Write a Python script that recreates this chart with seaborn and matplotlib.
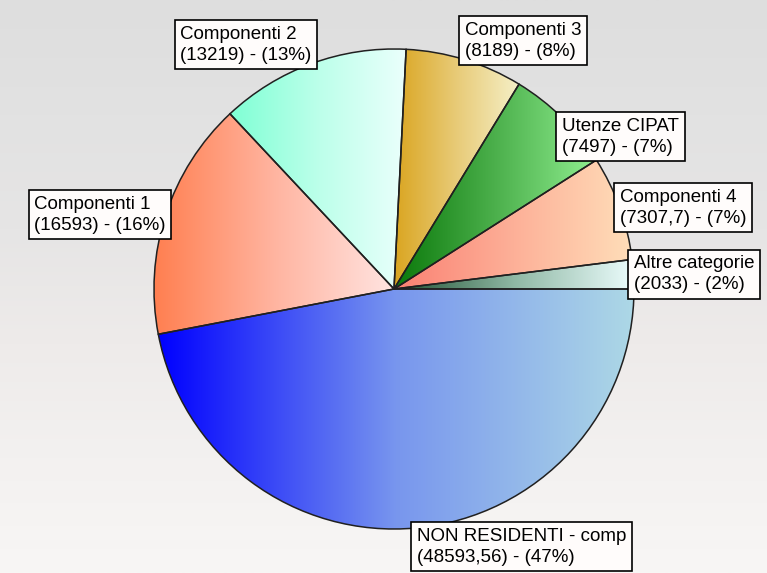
import numpy as np
import matplotlib
matplotlib.use("Agg")
import matplotlib.pyplot as plt
import seaborn as sns

# dati
categorie = ["Altre categorie", "Componenti 4", "Utenze CIPAT", "Componenti 3",
             "Componenti 2", "Componenti 1", "NON RESIDENTI - comp"]
valori = [2033, 7307.7, 7497, 8189, 13219, 16593, 48593.56]
valori_txt = ["2033", "7307,7", "7497", "8189", "13219", "16593", "48593,56"]

# colori sfumati (sinistra -> centro -> destra) per ogni spicchio
sfumature = [
    ["#1e5032", "#8fb8a4", "#ebfcfc"],
    ["#fa8072", "#fdb098", "#ffdeb9"],
    ["#0a780a", "#4cb04c", "#90ee90"],
    ["#daa520", "#e8cb78", "#f5f0c8"],
    ["#7fffd4", "#bcffea", "#ebfffc"],
    ["#ff7f50", "#ffb4a0", "#ffe4e1"],
    ["#0000ff", "#7896ee", "#add8e6"],
]
# allineamento etichette
ha_list = ["left", "left", "left", "left", "right", "right", "left"]
va_list = ["center", "center", "top", "bottom", "bottom", "center", "top"]

sns.set_theme(style="white")
plt.rcParams['font.family'] = ['Liberation Sans', 'DejaVu Sans']

W, H = 767, 573
fig = plt.figure(figsize=(W / 100, H / 100), dpi=100)
ax = fig.add_axes([0, 0, 1, 1])

# sfondo
bg = sns.blend_palette(["#dedede", "#e2e2e2", "#e6e5e5", "#eeebea", "#f3f1f0", "#f8f6f5"], n_colors=256)
ax.imshow(np.array(bg)[:, None, :], extent=[0, W, 0, H], aspect='auto', zorder=0)

cx, cy, r = 394, H - 289, 240
wedges, _ = ax.pie(valori, center=(cx, cy), radius=r, startangle=0, counterclock=True,
                   colors=['none'] * len(valori),
                   wedgeprops=dict(edgecolor='#202020', linewidth=1.1))
for w in wedges:
    w.set_zorder(3)

# riempimento sfumato
for w, cols in zip(wedges, sfumature):
    ext = w.get_path().get_extents()
    grad = np.array(sns.blend_palette(cols, n_colors=256))[None, :, :]
    im = ax.imshow(grad, extent=[ext.x0, ext.x1, ext.y0, ext.y1], aspect='auto',
                   zorder=2, interpolation='bilinear')
    im.set_clip_path(w)

totale = sum(valori)
for w, nome, vt, v, ha, va in zip(wedges, categorie, valori_txt, valori, ha_list, va_list):
    ang = np.deg2rad((w.theta1 + w.theta2) / 2)
    x = cx + r * np.cos(ang)
    y = cy + r * np.sin(ang)
    perc = round(v / totale * 100)
    ax.text(x, y, f"{nome}\n({vt}) - ({perc}%)", ha=ha, va=va, multialignment='left',
            fontsize=13.5, color='black', linespacing=1.3, zorder=5,
            bbox=dict(boxstyle='square,pad=0.3', fc='#fffcfb', ec='black', lw=1.2))

ax.set_xlim(0, W)
ax.set_ylim(0, H)
ax.set_aspect('auto')
ax.axis('off')

fig.savefig('out.png', dpi=100)
